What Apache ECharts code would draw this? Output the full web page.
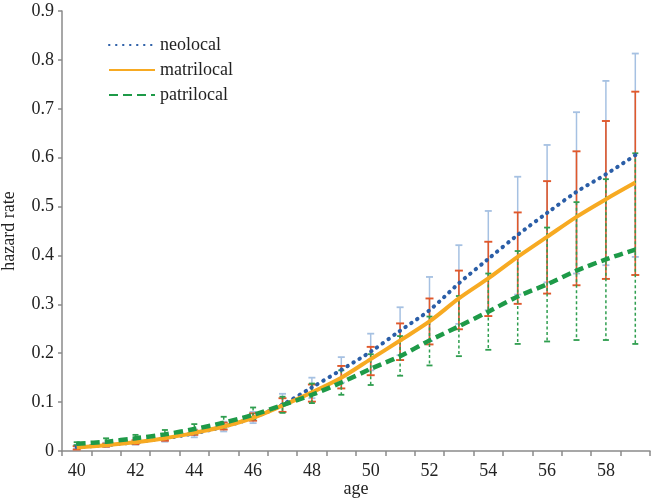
<!DOCTYPE html>
<html>
<head>
<meta charset="utf-8">
<script src="https://cdn.jsdelivr.net/npm/echarts@6/dist/echarts.min.js"></script>
<style>html,body{margin:0;padding:0;background:#fff;}#c{width:652px;height:500px;}</style>
</head>
<body>
<div id="c"></div>
<script>
var ages = ['40','41','42','43','44','45','46','47','48','49','50','51','52','53','54','55','56','57','58','59'];
var yTicks = [0, 0.1, 0.2, 0.3, 0.4, 0.5, 0.6, 0.7, 0.8, 0.9];

var neolocal   = [0.008,0.012,0.018,0.026,0.036,0.050,0.068,0.095,0.130,0.166,0.203,0.246,0.288,0.343,0.393,0.442,0.487,0.530,0.566,0.605];
var matrilocal = [0.007,0.012,0.018,0.026,0.037,0.050,0.068,0.093,0.120,0.150,0.188,0.226,0.265,0.312,0.353,0.397,0.438,0.479,0.515,0.549];
var patrilocal = [0.015,0.019,0.026,0.034,0.045,0.058,0.074,0.094,0.115,0.140,0.168,0.194,0.226,0.255,0.285,0.316,0.341,0.369,0.392,0.412];

var neoUpper   = [0.012,0.017,0.024,0.033,0.044,0.060,0.080,0.117,0.150,0.192,0.240,0.294,0.356,0.421,0.491,0.561,0.626,0.693,0.757,0.813];
var neoLower   = [0.005,0.008,0.013,0.019,0.028,0.040,0.057,0.080,0.108,0.140,0.165,0.196,0.225,0.260,0.288,0.320,0.345,0.363,0.380,0.397];
var matUpper   = [0.010,0.015,0.022,0.031,0.042,0.058,0.077,0.108,0.136,0.174,0.213,0.261,0.312,0.369,0.428,0.488,0.552,0.613,0.675,0.735];
var matLower   = [0.003,0.009,0.014,0.021,0.033,0.044,0.062,0.080,0.101,0.128,0.155,0.186,0.218,0.249,0.276,0.301,0.322,0.339,0.352,0.360];
var patUpper   = [0.018,0.026,0.033,0.043,0.055,0.070,0.089,0.111,0.138,0.165,0.198,0.235,0.275,0.317,0.363,0.409,0.457,0.509,0.556,0.609];
var patLower   = [0.012,0.014,0.019,0.027,0.036,0.048,0.065,0.078,0.098,0.115,0.135,0.154,0.175,0.194,0.207,0.219,0.224,0.227,0.227,0.219];

function barData(lo, hi){ return ages.map(function(a,i){ return [i, lo[i], hi[i]]; }); }

function makeErr(color, capW, lw, dash){
  return function(params, api){
    var x = api.value(0);
    var lo = api.coord([x, api.value(1)]);
    var hi = api.coord([x, api.value(2)]);
    var hw = capW/2;
    var st = {stroke: color, lineWidth: lw, lineDash: dash || null};
    var cst = {stroke: color, lineWidth: lw + 0.3};
    return {type:'group', children:[
      {type:'line', shape:{x1:hi[0], y1:hi[1], x2:lo[0], y2:lo[1]}, style: st},
      {type:'line', shape:{x1:hi[0]-hw, y1:hi[1], x2:hi[0]+hw, y2:hi[1]}, style: cst},
      {type:'line', shape:{x1:lo[0]-hw, y1:lo[1], x2:lo[0]+hw, y2:lo[1]}, style: cst}
    ]};
  };
}

var font = '"Liberation Serif", "DejaVu Serif", serif';
var chart = echarts.init(document.getElementById('c'));
chart.setOption({
  animation: false,
  backgroundColor: '#fff',
  grid: {left: 62, right: 2, top: 11, bottom: 49, containLabel: false, outerBoundsMode: 'none'},
  legend: {
    orient: 'vertical', left: 103, top: 31,
    itemWidth: 46, itemHeight: 12, itemGap: 7,
    itemStyle: {opacity: 0},
    textStyle: {fontFamily: font, fontSize: 18, color: '#222'},
    data: ['neolocal','matrilocal','patrilocal']
  },
  xAxis: {
    type: 'category', data: ages, boundaryGap: true,
    name: 'age', nameLocation: 'middle', nameGap: 29, nameMoveOverlap: false,
    nameTextStyle: {fontFamily: font, fontSize: 18, color: '#222'},
    axisLine: {lineStyle: {color: '#8a8a8a', width: 1.5}},
    axisTick: {show: true, interval: 0, length: 5, lineStyle: {color: '#8a8a8a', width: 1.5}},
    axisLabel: {interval: 1, fontFamily: font, fontSize: 18, color: '#222', margin: 11},
    splitLine: {show: false}
  },
  yAxis: {
    type: 'value', min: yTicks[0], max: yTicks[yTicks.length-1], interval: 0.1,
    name: 'hazard rate', nameLocation: 'middle', nameGap: 44, nameMoveOverlap: false,
    nameTextStyle: {fontFamily: font, fontSize: 18, color: '#222'},
    axisLine: {show: true, lineStyle: {color: '#8a8a8a', width: 1.5}},
    axisTick: {show: true, length: 4, lineStyle: {color: '#8a8a8a', width: 1.5}},
    axisLabel: {fontFamily: font, fontSize: 18, color: '#222', margin: 8,
      formatter: function(v){ return v === 0 ? '0' : v.toFixed(1); }},
    splitLine: {show: false}
  },
  series: [
    {type:'custom', name:'neoErr', renderItem: makeErr('#a6c1e2', 7, 1.5), data: barData(neoLower, neoUpper), encode:{x:0, y:[1,2]}, z: 1},
    {type:'custom', name:'matErr', renderItem: makeErr('#e0582b', 8, 1.6), data: barData(matLower, matUpper), encode:{x:0, y:[1,2]}, z: 1},
    {type:'custom', name:'patErr', renderItem: makeErr('#2f9e4f', 6, 1.5, [3,2.5]), data: barData(patLower, patUpper), encode:{x:0, y:[1,2]}, z: 1},
    {type:'line', name:'neolocal', data: neolocal, symbol:'none', smooth: 0.3, z: 3,
      lineStyle:{color:'#2b5ea7', width: 4, type:[0.5, 6.5], cap:'round'}, itemStyle:{color:'#2b5ea7'}},
    {type:'line', name:'matrilocal', data: matrilocal, symbol:'none', smooth: 0.3, z: 3,
      lineStyle:{color:'#f7aa22', width: 4}, itemStyle:{color:'#f7aa22'}},
    {type:'line', name:'patrilocal', data: patrilocal, symbol:'none', smooth: 0.3, z: 3,
      lineStyle:{color:'#1e9a48', width: 4.5, type:[9, 5]}, itemStyle:{color:'#1e9a48'}}
  ]
});
</script>
</body>
</html>
